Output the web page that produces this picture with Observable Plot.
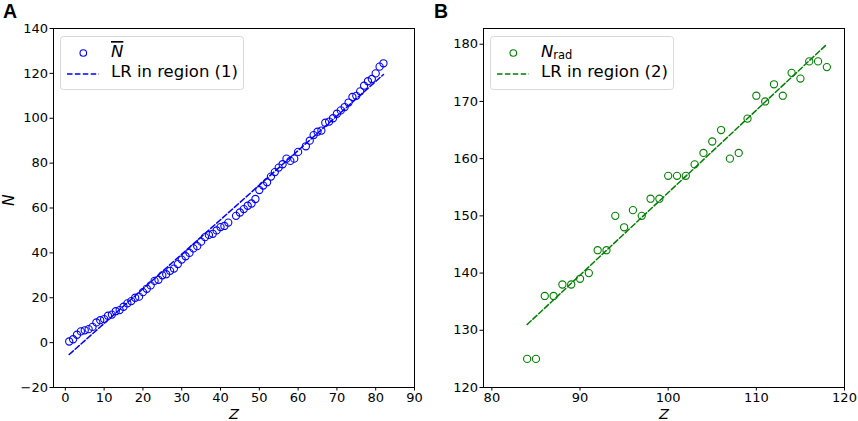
<!DOCTYPE html>
<html>
<head>
<meta charset="utf-8">
<script src="https://cdn.jsdelivr.net/npm/d3@7"></script>
<script src="https://cdn.jsdelivr.net/npm/@observablehq/plot@0.6"></script>
<style>
  html, body { margin: 0; padding: 0; background: white; }
  #wrap { position: relative; width: 858px; height: 421px; background: white; overflow: hidden; }
  .panel { position: absolute; top: 0; }
  .letter { position: absolute; top: 0px; font-family: "Liberation Sans", Arial, sans-serif; font-weight: bold; font-size: 19.5px; line-height: 22px; }
</style>
</head>
<body>
<div id="wrap">
  <div class="panel" id="pA" style="left:0px"></div>
  <div class="panel" id="pB" style="left:430px"></div>
  <div class="letter" style="left:3px">A</div>
  <div class="letter" style="left:434px">B</div>
</div>
<script>
// ---- Panel A data: average neutron number vs Z ----
const zA = [1,2,3,4,5,6,7,8,9,10,11,12,13,14,15,16,17,18,19,20,21,22,23,24,25,26,27,28,29,30,31,32,33,34,35,36,37,38,39,40,41,42,44,45,46,47,48,49,50,51,52,53,54,55,56,57,58,59,60,62,63,64,65,66,67,68,69,70,71,72,73,74,75,76,77,78,79,80,81,82];
const nA = [0.5,1.5,3.5,5,5.5,6,7,9,10,10.5,12,12.5,14,14.5,16,17.5,18.5,20,20.5,22.5,24,25.5,27.5,28,30,30.5,32,33,35,37,38.5,40,42,43,45,47,48,48.5,50,51.5,52,53.5,56.5,58,59.5,61,62,64,68,70,71.5,74,76,78,79.5,82,81,82,85,87.5,90,92.5,94,94.5,98,98.5,100,102,103.5,105,107,109.5,110,112,114.5,116.5,117.5,120,123,124.5];
const lrAz = [1, 82];
const lrAn = [-5.3, 119.5];
const xTicksA = [0,10,20,30,40,50,60,70,80,90];
const yTicksA = [-20,0,20,40,60,80,100,120,140];

// ---- Panel B data: N_rad vs Z ----
const zB = [84,85,86,87,88,89,90,91,92,93,94,95,96,97,98,99,100,101,102,103,104,105,106,107,108,109,110,111,112,113,114,115,116,117,118];
const nB = [125,125,136,136,138,138,139,140,144,144,150,148,151,150,153,153,157,157,157,159,161,163,165,160,161,167,171,170,173,171,175,174,177,177,176];
const lrBz = [84, 118];
const lrBn = [131, 180];
const xTicksB = [80,90,100,110,120];
const yTicksB = [120,130,140,150,160,170,180];

const FONT = "DejaVu Sans, sans-serif";

function panel(opts) {
  const pts = opts.z.map((z, i) => ({z, n: opts.n[i]}));
  const lr = opts.lz.map((z, i) => ({z, n: opts.ln[i]}));
  const svg = Plot.plot({
    width: opts.width, height: 421,
    marginLeft: 53, marginRight: opts.width - 414, marginTop: 28, marginBottom: 34,
    x: {domain: opts.xd},
    y: {domain: opts.yd},
    style: {fontFamily: FONT, fontSize: "13px", color: "black", background: "white", overflow: "visible"},
    marks: [
      Plot.line(lr, {x: "z", y: "n", stroke: opts.color, strokeWidth: 1.5, strokeDasharray: "5.5,2.4"}),
      Plot.dot(pts, {x: "z", y: "n", r: 3.6, stroke: opts.color, fill: "none", strokeWidth: 1.1}),
      Plot.frame({stroke: "black", strokeWidth: 1}),
      Plot.axisX({ticks: opts.xt, tickSize: 3.5, tickPadding: 2, fontSize: 13, label: null, tickFormat: d3.format("")}),
      Plot.axisY({ticks: opts.yt, tickSize: 3.5, tickPadding: 2, fontSize: 13, label: null, tickFormat: d3.format("")}),
      Plot.text(["Z"], {frameAnchor: "bottom", lineAnchor: "middle", dy: 26.5, text: d => d, fontStyle: "italic", fontSize: 14.5}),
      ...(opts.ylabel ? [Plot.text(["N"], {frameAnchor: "left", dx: -44, dy: -2, text: d => d, rotate: -90, fontStyle: "italic", fontSize: 15.5})] : [])
    ]
  });
  // legend
  const g = d3.select(svg).append("g").attr("font-family", FONT).attr("font-size", 16.5).attr("text-anchor", "start");
  g.append("rect").attr("x", 60.5).attr("y", 36.5).attr("width", 183).attr("height", 53)
    .attr("rx", 3).attr("fill", "white").attr("fill-opacity", 0.8).attr("stroke", "#d9d9d9").attr("stroke-width", 1);
  g.append("circle").attr("cx", 83.3).attr("cy", 53).attr("r", 3.3).attr("fill", "none").attr("stroke", opts.color).attr("stroke-width", 1.1);
  g.append("line").attr("x1", 67).attr("x2", 99).attr("y1", 74).attr("y2", 74)
    .attr("stroke", opts.color).attr("stroke-width", 1.5).attr("stroke-dasharray", "5.5,2.4");
  opts.legend1(g);
  g.append("text").attr("x", 111).attr("y", 76.7).text(opts.legend2);
  return svg;
}

document.getElementById("pA").appendChild(panel({
  width: 430, z: zA, n: nA, lz: lrAz, ln: lrAn, xd: [-3.05, 90], yd: [-20, 140],
  xt: xTicksA, yt: yTicksA, color: "#0000ff", ylabel: true,
  legend1: g => {
    g.append("text").attr("x", 111).attr("y", 57)
      .attr("font-style", "italic").style("text-decoration", "overline").text("N");
  },
  legend2: "LR in region (1)"
}));

document.getElementById("pB").appendChild(panel({
  width: 428, z: zB, n: nB, lz: lrBz, ln: lrBn, xd: [79.05, 120], yd: [120, 182.75],
  xt: xTicksB, yt: yTicksB, color: "#008000", ylabel: false,
  legend1: g => {
    const t = g.append("text").attr("x", 111).attr("y", 57);
    t.append("tspan").attr("font-style", "italic").text("N");
    t.append("tspan").attr("font-size", 11.5).attr("dy", 2).text("rad");
  },
  legend2: "LR in region (2)"
}));
</script>
</body>
</html>
